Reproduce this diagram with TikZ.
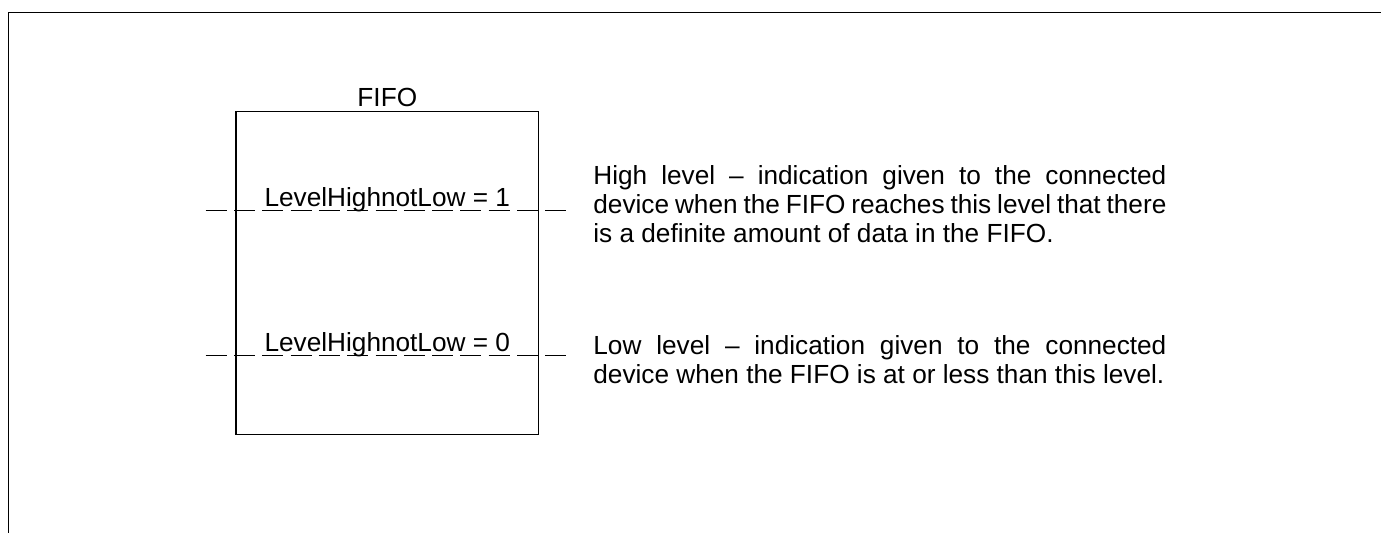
\documentclass[tikz,border=0pt]{standalone}
\usepackage{fontspec}
\setmainfont{Liberation Sans}
\hyphenpenalty=10000
\exhyphenpenalty=10000
\tolerance=10000

\begin{document}
\begin{tikzpicture}[x=0.5pt, y=-0.5pt,
  every node/.style={inner sep=0pt, font=\fontsize{13.1}{14.5}\selectfont},
  fifobox/.style={draw, line width=0.55pt, minimum width=151.35pt, minimum height=161.5pt},
  levelline/.style={draw, line width=0.55pt, dash pattern=on 10.5pt off 3.65pt},
  note/.style={anchor=base west, text width=286.5pt, align=justify}]
\useasboundingbox (0,0) rectangle (1381,533);
\coordinate (T0) at (8.5,12.5);
\coordinate (T1) at (1381,12.5);
\coordinate (T2) at (8.5,533);
\draw[line width=0.75pt] (T1) -- (T0) -- (T2);
\node[fifobox] (F0) at (387.3,273.2) {};
\node[anchor=base] (F1) at (387.3,106.7) {FIFO};
\coordinate (H0) at (205.7,210.5);
\coordinate (H1) at (566,210.5);
\draw[levelline] (H0) -- (H1);
\node[anchor=base] (H2) at (387.3,207) {LevelHighnotLow = 1};
\coordinate (L0) at (205.7,355.7);
\coordinate (L1) at (566,355.7);
\draw[levelline] (L0) -- (L1);
\node[anchor=base] (L2) at (387.3,352) {LevelHighnotLow = 0};
\node[note] (N0) at (593,184.5) {High level -- indication given to the connected device when the FIFO reaches this level that there is a definite amount of data in the FIFO.};
\node[note] (N1) at (593,355) {Low level -- indication given to the connected device when the FIFO is at or less than this level.};
\end{tikzpicture}
\end{document}
